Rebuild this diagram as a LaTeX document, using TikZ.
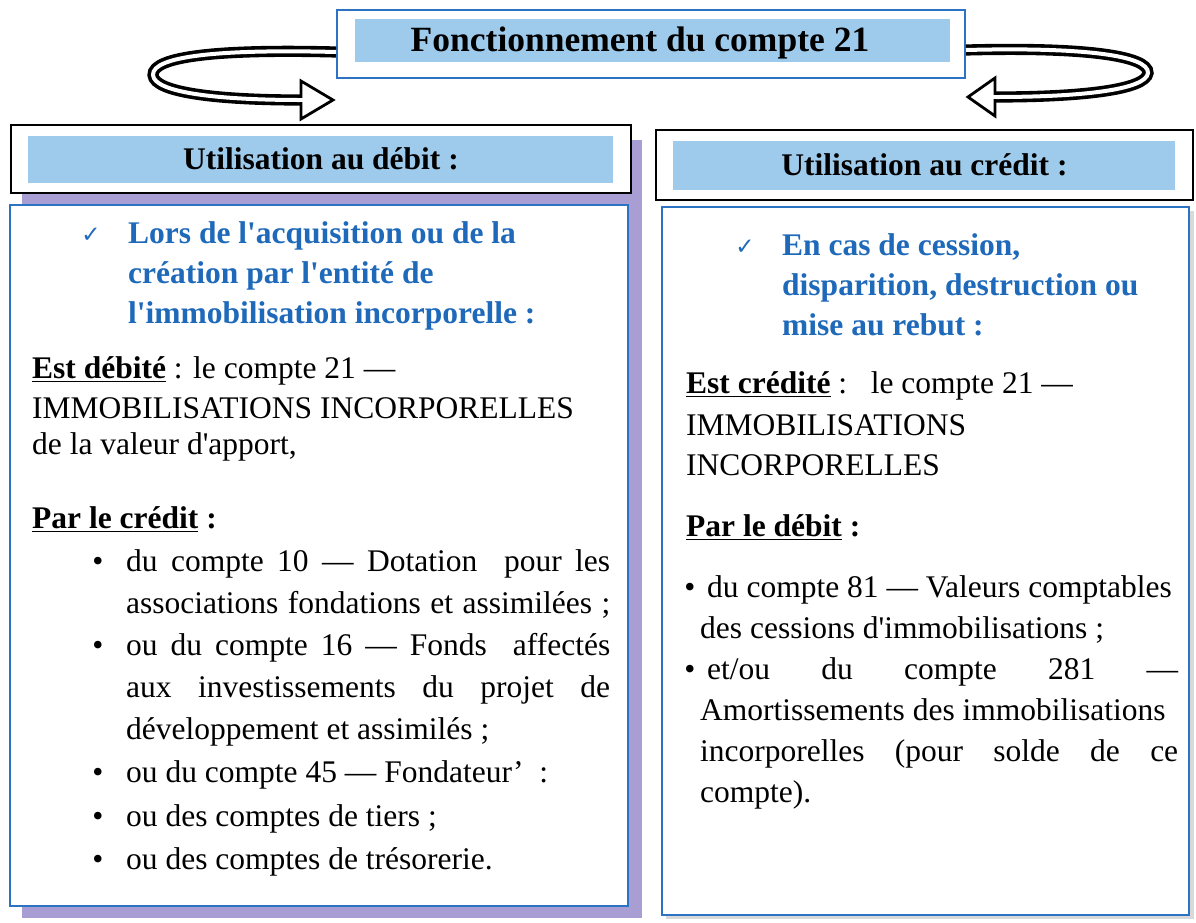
\documentclass[tikz,border=0pt]{standalone}
\usepackage{fontspec}
\setmainfont{Liberation Serif}[Ligatures=TeXOff]
\newfontfamily\symfont{DejaVu Sans}
\definecolor{lightbl}{RGB}{158,203,236}
\definecolor{purp}{RGB}{168,158,212}
\definecolor{boxblue}{RGB}{45,115,195}
\definecolor{headblue}{RGB}{30,105,185}
\newcommand\ulx[1]{\setbox0=\hbox{#1}\rlap{\rule[-4pt]{\wd0}{1.6pt}}\box0\relax}
\tikzset{
  body/.style={inner sep=0pt, anchor=mid west, font=\fontsize{31.5}{38}\selectfont},
  hd/.style={inner sep=0pt, anchor=mid west, text=headblue, font=\bfseries\fontsize{31.5}{38}\selectfont},
  chk/.style={inner sep=0pt, anchor=mid, text=headblue, font=\symfont\fontsize{23}{26}\selectfont},
  bul/.style={inner sep=0pt, anchor=mid, font=\fontsize{31.5}{38}\selectfont},
  headbox/.style={draw=black, line width=2pt, fill=white, inner sep=0pt,
    font=\bfseries\fontsize{31.5}{38}\selectfont,
    path picture={\fill[lightbl] ([shift={(17pt,-11pt)}]path picture bounding box.north west) rectangle ([shift={(-18pt,10pt)}]path picture bounding box.south east);}},
  titlebox/.style={draw=boxblue, line width=2pt, fill=white, inner sep=0pt,
    path picture={\fill[lightbl] ([shift={(18pt,-9pt)}]path picture bounding box.north west) rectangle ([shift={(-15pt,16pt)}]path picture bounding box.south east);}},
  contbox/.style={draw=boxblue, line width=2pt, fill=white, inner sep=0pt},
  band/.style={line width=3.6pt, double=white, double distance=4pt},
  ahead/.style={draw=black, fill=white, line width=2.8pt, line join=miter},
}
\begin{document}
\begin{tikzpicture}[x=1pt,y=-1pt]
\useasboundingbox[fill=white] (0,0) rectangle (1196,922);

% shadows
\fill[purp] (22,140) rectangle (642,918);
\fill[black!15] (666,211) rectangle (1194,919);

% boxes
\node[titlebox, minimum width=628pt, minimum height=68pt] (title) at (651,44) {};
\node[font=\bfseries\fontsize{35.5}{40}\selectfont, inner sep=0pt] (ttext) at (640,43) {Fonctionnement du compte 21};

\node[contbox, minimum width=618pt, minimum height=701pt] (cl) at (319,555.5) {};
\node[contbox, minimum width=527pt, minimum height=708pt] (cr) at (925.5,561) {};

\node[headbox, minimum width=620pt, minimum height=68pt] (hl) at (321,159) {Utilisation au débit :};
\node[headbox, minimum width=537pt, minimum height=70pt] (hr) at (924.5,165) {Utilisation au crédit :};

% loops
\coordinate (lt) at (333,100);
\coordinate (lb) at (301,100);
\draw[band] ([yshift=-8pt]title.west) .. controls (220,49) and (152,56) .. (153,75)
  .. controls (154,93) and (220,100) .. (lb);
\draw[ahead] (301,81) -- (lt) -- (301,119) -- cycle;
\fill[white] (296,98) rectangle (305,102);

\coordinate (rt) at (968,97);
\coordinate (rb) at (995,97);
\draw[band] ([yshift=-6pt]title.east) .. controls (1080,47) and (1149,55) .. (1148,73)
  .. controls (1146,90) and (1080,97) .. (rb);
\draw[ahead] (995,78) -- (rt) -- (995,116) -- cycle;
\fill[white] (991,95) rectangle (1000,99);

% left content
\node[chk] (lc) at (91,240) {✓};
\node[hd] (lh1) at (128,241) {Lors de l'acquisition ou de la};
\node[hd] (lh2) at (128,281) {création par l'entité de};
\node[hd] (lh3) at (128,321) {l'immobilisation incorporelle :};
\node[body] (le1) at (32,376) {\ulx{\textbf{Est débité}} : le compte 21 —};
\node[body] (le2) at (32,416) {IMMOBILISATIONS INCORPORELLES};
\node[body] (le3) at (32,452) {de la valeur d'apport,};
\node[body] (lp) at (32,526) {\ulx{\textbf{Par le crédit}} \textbf{:}};
\node[bul] (lb1) at (98,569) {•};
\node[body] (lt1) at (126,569) {\makebox[484pt][s]{du compte 10 — Dotation\ \ pour les}};
\node[body] (lt2) at (126,611) {\makebox[484pt][s]{associations fondations et assimilées ;}};
\node[bul] (lb2) at (98,653) {•};
\node[body] (lt3) at (126,653) {\makebox[484pt][s]{ou du compte 16 — Fonds\ \ affectés}};
\node[body] (lt4) at (126,695) {\makebox[484pt][s]{aux investissements du projet de}};
\node[body] (lt5) at (126,737) {développement et assimilés ;};
\node[bul] (lb3) at (98,780) {•};
\node[body] (lt6) at (126,780) {ou du compte 45 — Fondateur’\ \ :};
\node[bul] (lb4) at (98,824) {•};
\node[body] (lt7) at (126,824) {ou des comptes de tiers ;};
\node[bul] (lb5) at (98,867) {•};
\node[body] (lt8) at (126,867) {ou des comptes de trésorerie.};

% right content
\node[chk] (rc) at (745,252) {✓};
\node[hd] (rh1) at (782,253) {En cas de cession,};
\node[hd] (rh2) at (782,293) {disparition, destruction ou};
\node[hd] (rh3) at (782,333) {mise au rebut :};
\node[body] (re1) at (686,391) {\ulx{\textbf{Est crédité}} :\ \ \ le compte 21 —};
\node[body] (re2) at (686,433) {IMMOBILISATIONS};
\node[body] (re3) at (686,473) {INCORPORELLES};
\node[body] (rp) at (686,534) {\ulx{\textbf{Par le débit}} \textbf{:}};
\node[bul] (rb1) at (690,595) {•};
\node[body] (rt1) at (707,595) {du compte 81 — Valeurs comptables};
\node[body] (rt2) at (700,636) {des cessions d'immobilisations ;};
\node[bul] (rb2) at (690,677) {•};
\node[body] (rt3) at (707,677) {\makebox[471pt][s]{et/ou du compte 281 —}};
\node[body] (rt4) at (700,718) {Amortissements des immobilisations};
\node[body] (rt5) at (700,759) {\makebox[478pt][s]{incorporelles (pour solde de ce}};
\node[body] (rt6) at (700,800) {compte).};
\end{tikzpicture}
\end{document}
